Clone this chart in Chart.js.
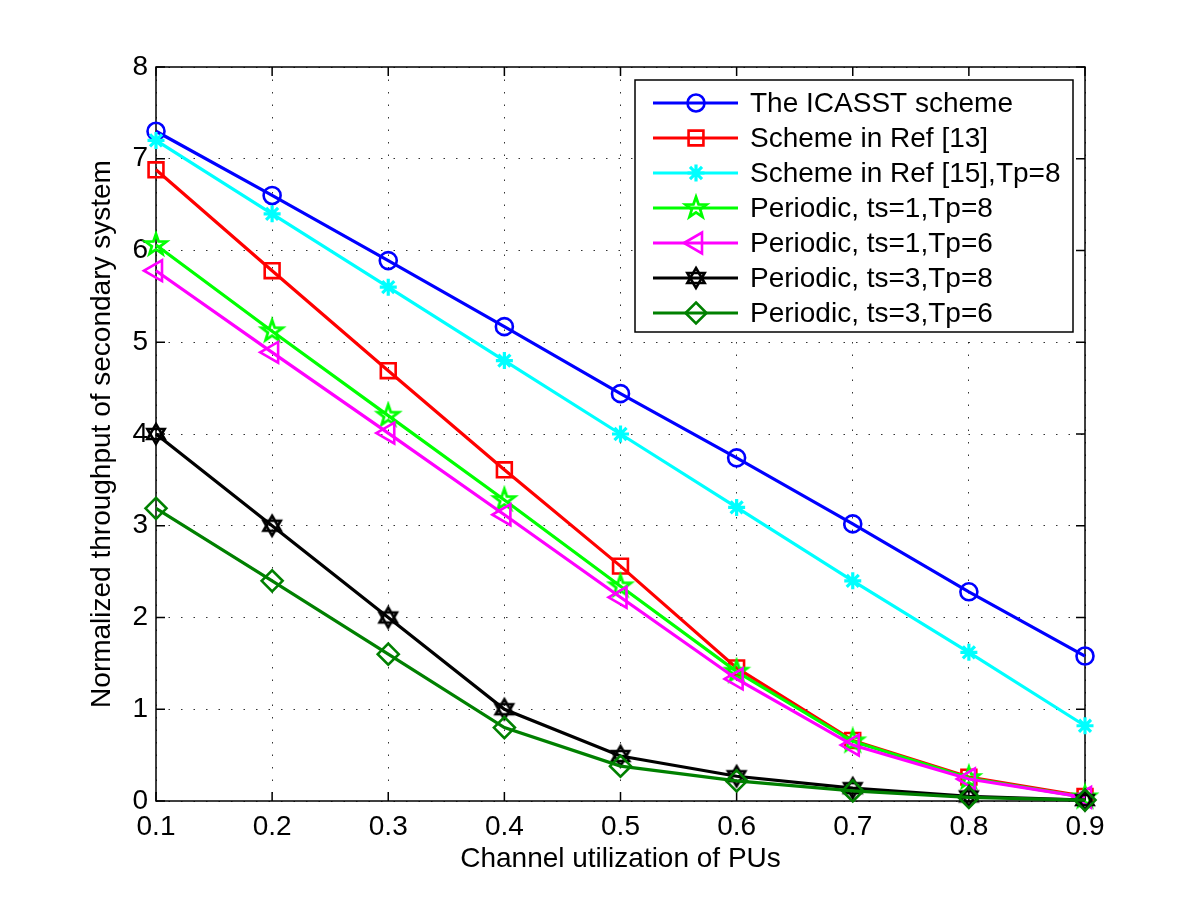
<!DOCTYPE html>
<html><head><meta charset="utf-8">
<script src="https://cdn.jsdelivr.net/npm/chart.js@4/dist/chart.umd.min.js"></script>
<style>html,body{margin:0;padding:0;background:#fff;}#wrap{width:1200px;height:903px;}</style>
</head><body><div id="wrap"><canvas id="c" width="1200" height="903" style="width:1200px;height:903px"></canvas></div>
<script>
// ---- data ----
const xValues = [0.1, 0.2, 0.3, 0.4, 0.5, 0.6, 0.7, 0.8, 0.9];
const seriesNames = [
  'The ICASST scheme',
  'Scheme in Ref [13]',
  'Scheme in Ref [15],Tp=8',
  'Periodic, ts=1,Tp=8',
  'Periodic, ts=1,Tp=6',
  'Periodic, ts=3,Tp=8',
  'Periodic, ts=3,Tp=6'
];
const icasst      = [7.30, 6.60, 5.89, 5.17, 4.44, 3.74, 3.02, 2.28, 1.58];
const ref13       = [6.88, 5.78, 4.69, 3.61, 2.56, 1.45, 0.66, 0.26, 0.05];
const ref15Tp8    = [7.20, 6.40, 5.60, 4.80, 4.00, 3.20, 2.40, 1.62, 0.82];
const perTs1Tp8   = [6.06, 5.12, 4.20, 3.28, 2.34, 1.41, 0.65, 0.25, 0.04];
const perTs1Tp6   = [5.78, 4.89, 4.01, 3.12, 2.22, 1.33, 0.61, 0.24, 0.04];
const perTs3Tp8   = [4.00, 3.00, 2.00, 1.00, 0.49, 0.27, 0.14, 0.05, 0.01];
const perTs3Tp6   = [3.19, 2.40, 1.60, 0.80, 0.38, 0.22, 0.11, 0.04, 0.01];
const xTickLabels = ['0.1','0.2','0.3','0.4','0.5','0.6','0.7','0.8','0.9'];
const yTickLabels = ['0','1','2','3','4','5','6','7','8'];
const seriesValues = [icasst, ref13, ref15Tp8, perTs1Tp8, perTs1Tp6, perTs3Tp8, perTs3Tp6];

// ---- styles ----
const colors = ['#0000ff', '#ff0000', '#00ffff', '#00ff00', '#ff00ff', '#000000', '#008000'];
const FONT = "'Liberation Sans', Arial, Helvetica, sans-serif";

function makeStarCanvas(color, points, rOuter, rInner, lw) {
  const s = Math.ceil(2 * (rOuter + lw + 1));
  const cv = document.createElement('canvas');
  cv.width = s; cv.height = s;
  const g = cv.getContext('2d');
  g.strokeStyle = color; g.lineWidth = lw; g.lineJoin = 'miter';
  g.beginPath();
  for (let i = 0; i < points * 2; i++) {
    const r = i % 2 === 0 ? rOuter : rInner;
    const a = -Math.PI / 2 + i * Math.PI / points;
    const px = s / 2 + r * Math.cos(a), py = s / 2 + r * Math.sin(a);
    if (i === 0) g.moveTo(px, py); else g.lineTo(px, py);
  }
  g.closePath(); g.stroke();
  return cv;
}
function makeHexagram(color, r, lw) {
  const s = Math.ceil(2 * (r + lw + 1));
  const cv = document.createElement('canvas');
  cv.width = s; cv.height = s;
  const g = cv.getContext('2d');
  g.strokeStyle = color; g.lineWidth = lw;
  for (let t = 0; t < 2; t++) {
    g.beginPath();
    for (let i = 0; i < 3; i++) {
      const a = (t === 0 ? -Math.PI / 2 : Math.PI / 2) + i * 2 * Math.PI / 3;
      const px = s / 2 + r * Math.cos(a), py = s / 2 + r * Math.sin(a);
      if (i === 0) g.moveTo(px, py); else g.lineTo(px, py);
    }
    g.closePath(); g.stroke();
  }
  return cv;
}
const pentagram = makeStarCanvas(colors[3], 5, 11, 4.4, 2.8);
const hexagram = makeHexagram(colors[5], 10, 2.6);

const markerStyles = ['circle', 'rect', 'star', pentagram, 'triangle', hexagram, 'rectRot'];
const markerRadius = [8.5, 10.5, 8.5, 10, 12, 10, 10.5];
const markerRotation = [0, 0, 0, 0, 270, 0, 0];
const markerWidth = [2.6, 2.6, 3.2, 2.6, 2.6, 2.6, 2.6];

const datasets = seriesValues.map((vals, i) => ({
  label: seriesNames[i],
  data: xValues.map((x, k) => ({x: x, y: vals[k]})),
  borderColor: colors[i],
  backgroundColor: 'rgba(0,0,0,0)',
  pointBorderColor: colors[i],
  pointBackgroundColor: 'rgba(0,0,0,0)',
  borderWidth: 3.2,
  pointBorderWidth: markerWidth[i],
  pointStyle: markerStyles[i],
  pointRadius: markerRadius[i],
  pointRotation: markerRotation[i],
  pointHoverRadius: markerRadius[i],
  tension: 0,
  clip: false,
  order: seriesValues.length - 1 - i
}));

// frame + inward ticks
const framePlugin = {
  id: 'frame',
  beforeDatasetsDraw(chart) {
    const {ctx, chartArea: a, scales} = chart;
    ctx.save();
    ctx.strokeStyle = '#000'; ctx.lineWidth = 1.5;
    ctx.strokeRect(a.left, a.top, a.right - a.left, a.bottom - a.top);
    const tl = 9;
    ctx.beginPath();
    scales.x.ticks.forEach(t => {
      const px = scales.x.getPixelForValue(t.value);
      ctx.moveTo(px, a.bottom); ctx.lineTo(px, a.bottom - tl);
      ctx.moveTo(px, a.top); ctx.lineTo(px, a.top + tl);
    });
    scales.y.ticks.forEach(t => {
      const py = scales.y.getPixelForValue(t.value);
      ctx.moveTo(a.left, py); ctx.lineTo(a.left + tl, py);
      ctx.moveTo(a.right, py); ctx.lineTo(a.right - tl, py);
    });
    ctx.stroke();
    ctx.restore();
  }
};

function drawMarker(ctx, style, x, y, r, rot, color, lw) {
  ctx.save();
  ctx.strokeStyle = color; ctx.lineWidth = lw;
  if (typeof style !== 'string') {
    ctx.drawImage(style, x - style.width / 2, y - style.height / 2);
    ctx.restore(); return;
  }
  ctx.beginPath();
  if (style === 'circle') {
    ctx.arc(x, y, r, 0, Math.PI * 2);
  } else if (style === 'rect') {
    const s = r * Math.SQRT1_2;
    ctx.rect(x - s, y - s, 2 * s, 2 * s);
  } else if (style === 'rectRot') {
    ctx.moveTo(x, y - r); ctx.lineTo(x + r, y); ctx.lineTo(x, y + r); ctx.lineTo(x - r, y); ctx.closePath();
  } else if (style === 'triangle') {
    let a = rot * Math.PI / 180;
    for (let i = 0; i < 3; i++) {
      const px = x + Math.sin(a) * r, py = y - Math.cos(a) * r;
      if (i === 0) ctx.moveTo(px, py); else ctx.lineTo(px, py);
      a += 2 * Math.PI / 3;
    }
    ctx.closePath();
  } else if (style === 'star') {
    for (let i = 0; i < 4; i++) {
      const a = i * Math.PI / 4;
      ctx.moveTo(x - Math.cos(a) * r, y - Math.sin(a) * r);
      ctx.lineTo(x + Math.cos(a) * r, y + Math.sin(a) * r);
    }
  }
  ctx.stroke();
  ctx.restore();
}

const legendPlugin = {
  id: 'boxLegend',
  afterDraw(chart) {
    const {ctx} = chart;
    const bx = 635, by = 80, bw = 438, bh = 252;
    ctx.save();
    ctx.fillStyle = '#fff';
    ctx.fillRect(bx, by, bw, bh);
    ctx.strokeStyle = '#000'; ctx.lineWidth = 1.5;
    ctx.strokeRect(bx, by, bw, bh);
    ctx.font = '28px ' + FONT;
    ctx.textBaseline = 'middle';
    ctx.textAlign = 'left';
    seriesNames.forEach((name, i) => {
      const y = 103 + i * 35;
      ctx.strokeStyle = colors[i]; ctx.lineWidth = 3.2;
      ctx.beginPath(); ctx.moveTo(653, y); ctx.lineTo(738, y); ctx.stroke();
      drawMarker(ctx, markerStyles[i], 696, y, markerRadius[i], markerRotation[i], colors[i], markerWidth[i]);
      ctx.fillStyle = '#000';
      ctx.fillText(name, 750, y + 1);
    });
    ctx.restore();
  }
};

new Chart(document.getElementById('c'), {
  type: 'line',
  data: {datasets},
  plugins: [framePlugin, legendPlugin],
  options: {
    responsive: false,
    animation: false,
    devicePixelRatio: 1,
    layout: {padding: {left: 0, right: 115, top: 67, bottom: 0}},
    plugins: {legend: {display: false}, tooltip: {enabled: false}},
    scales: {
      x: {
        type: 'linear', min: 0.1, max: 0.9,
        afterFit(s) { s.height = 102; },
        afterBuildTicks(s) { s.ticks = xTickLabels.map(v => ({value: parseFloat(v)})); },
        ticks: {
          callback: (v) => Number(v).toFixed(1),
          color: '#000', font: {size: 28, family: FONT}, padding: 9, maxRotation: 0, autoSkip: false
        },
        grid: {color: 'rgba(0,0,0,0.8)', lineWidth: 1, drawTicks: false},
        border: {display: false, dash: [1.5, 11]},
        title: {display: true, text: 'Channel utilization of PUs', color: '#000', font: {size: 28, family: FONT}, padding: {top: 0, bottom: 27}}
      },
      y: {
        type: 'linear', min: 0, max: 8,
        afterFit(s) { s.width = 156; },
        afterBuildTicks(s) { s.ticks = yTickLabels.map(v => ({value: parseFloat(v)})); },
        ticks: {
          callback: (v) => String(v),
          color: '#000', font: {size: 28, family: FONT}, padding: 8
        },
        grid: {color: 'rgba(0,0,0,0.8)', lineWidth: 1, drawTicks: false},
        border: {display: false, dash: [1.5, 11]},
        title: {display: true, text: 'Normalized throughput of secondary system', color: '#000', font: {size: 28, family: FONT}, padding: {top: 85, bottom: 0}}
      }
    }
  }
});
</script>
</body></html>
